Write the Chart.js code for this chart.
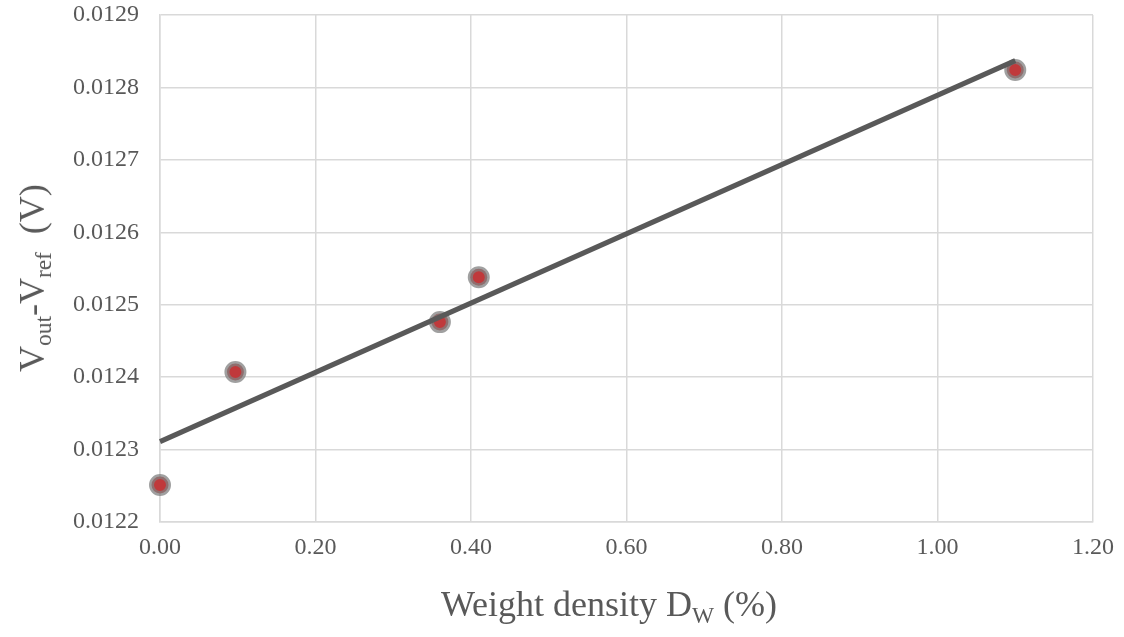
<!DOCTYPE html>
<html>
<head>
<meta charset="utf-8">
<script src="https://cdn.jsdelivr.net/npm/chart.js@4/dist/chart.umd.min.js"></script>
<style>
  body { margin: 0; background: #fff; }
  #wrap { position: relative; width: 1124px; height: 637px; }
  .ttl { position: absolute; font-family: "Liberation Serif", "Times New Roman", serif; font-size: 36px; color: #595959; white-space: nowrap; line-height: 1; }
  .ttl sub { font-size: 0.65em; vertical-align: -0.3em; line-height: 0; }
  #ytitle { left: 32px; top: 278px; transform: translate(-50%, -50%) rotate(-90deg); }
  #xtitle { left: 609px; top: 604px; transform: translate(-50%, -50%); }
</style>
</head>
<body>
<div id="wrap">
  <canvas id="myChart" width="1124" height="637"></canvas>
  <div class="ttl" id="ytitle">V<sub>out</sub>-V<sub>ref</sub>&nbsp;&nbsp;(V)</div>
  <div class="ttl" id="xtitle">Weight density D<sub>W</sub> (%)</div>
</div>
<script>
// measured points
var density = [0, 0.097, 0.36, 0.41, 1.10];
var voltage = [0.012251, 0.012407, 0.012476, 0.012538, 0.012824];

// trend line end points
var trendX = [0, 1.10];
var trendY = [0.012311, 0.012837];

// axis ranges / ticks
var xTicks = [0, 0.2, 0.4, 0.6, 0.8, 1.0, 1.2];
var yTicks = [0.0122, 0.0123, 0.0124, 0.0125, 0.0126, 0.0127, 0.0128, 0.0129];

var points = density.map(function (x, i) { return { x: x, y: voltage[i] }; });
var trend = trendX.map(function (x, i) { return { x: x, y: trendY[i] }; });

var tickFont = { family: '"Liberation Serif", "Times New Roman", serif', size: 24 };
var gridCol = '#d9d9d9';

const ctx = document.getElementById('myChart').getContext('2d');

var myChart = new Chart(ctx, {
    type: 'scatter',
    data: {
        datasets: [{
            type: 'line',
            label: 'trend',
            data: trend,
            borderColor: '#595959',
            borderWidth: 5,
            pointRadius: 0,
            fill: false,
            clip: false,
            order: 0
        }, {
            label: 'data',
            data: points,
            backgroundColor: '#c0393b',
            borderColor: 'rgba(128,128,128,0.75)',
            borderWidth: 5,
            pointRadius: 8.5,
            clip: false,
            order: 1
        }]
    },
    options: {
        responsive: false,
        animation: false,
        layout: { padding: { left: 0, right: 31, top: 15, bottom: 0 } },
        plugins: {
            legend: { display: false },
            tooltip: { enabled: false }
        },
        scales: {
            x: {
                type: 'linear',
                min: xTicks[0],
                max: xTicks[xTicks.length - 1],
                afterBuildTicks: function (scale) {
                    scale.ticks = xTicks.map(function (v) { return { value: v }; });
                },
                afterFit: function (scale) {
                    scale.height = 115;
                    scale.paddingLeft = 0;
                    scale.paddingRight = 0;
                },
                ticks: {
                    font: tickFont,
                    color: '#595959',
                    padding: 11,
                    maxRotation: 0,
                    callback: function (v) { return Number(v).toFixed(2); }
                },
                grid: { color: gridCol, lineWidth: 1.5, drawTicks: false },
                border: { color: gridCol, width: 1.5 }
            },
            y: {
                type: 'linear',
                min: yTicks[0],
                max: yTicks[yTicks.length - 1],
                afterBuildTicks: function (scale) {
                    scale.ticks = yTicks.map(function (v) { return { value: v }; });
                },
                afterFit: function (scale) {
                    scale.width = 160;
                    scale.paddingTop = 0;
                    scale.paddingBottom = 0;
                },
                ticks: {
                    font: tickFont,
                    color: '#595959',
                    padding: 21,
                    callback: function (v) { return Number(v).toFixed(4); }
                },
                grid: { color: gridCol, lineWidth: 1.5, drawTicks: false },
                border: { color: gridCol, width: 1.5 }
            }
        }
    }
});
</script>
</body>
</html>
